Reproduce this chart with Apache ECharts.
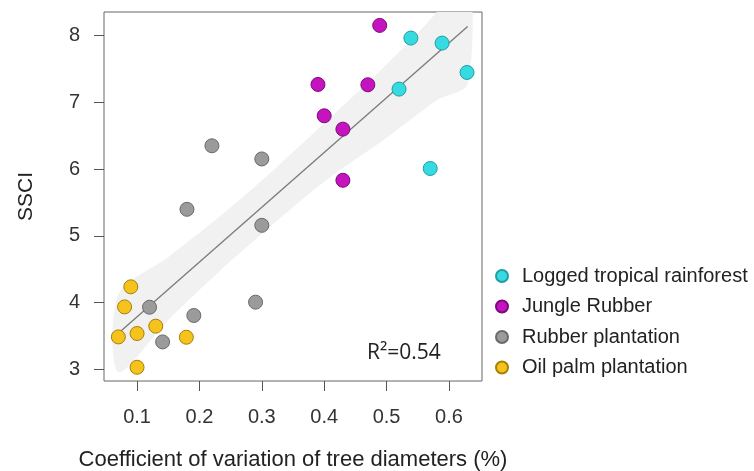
<!DOCTYPE html>
<html>
<head>
<meta charset="utf-8">
<script src="https://cdn.jsdelivr.net/npm/echarts@6/dist/echarts.min.js"></script>
<style>
  html, body { margin: 0; padding: 0; background: #fff; }
  #chart { width: 754px; height: 471px; }
</style>
</head>
<body>
<div id="chart"></div>
<script>
// Stand structural complexity index vs. coefficient of variation of tree diameters
const seriesNames = ['Logged tropical rainforest', 'Jungle Rubber', 'Rubber plantation', 'Oil palm plantation'];

const loggedForest = [[0.539, 7.965], [0.589, 7.89], [0.629, 7.45], [0.520, 7.20], [0.570, 6.01]];
const jungleRubber = [[0.489, 8.155], [0.390, 7.27], [0.470, 7.265], [0.400, 6.80], [0.430, 6.60], [0.430, 5.833]];
const rubberPlantation = [[0.220, 6.35], [0.300, 6.153], [0.180, 5.398], [0.300, 5.158], [0.120, 3.93],
                          [0.290, 4.006], [0.191, 3.806], [0.141, 3.41]];
const oilPalm = [[0.090, 4.236], [0.080, 3.935], [0.130, 3.646], [0.100, 3.536], [0.070, 3.485],
                 [0.179, 3.48], [0.100, 3.03]];

// Fitted line and its confidence band
const fitX = [0.07, 0.63];
const fitY = [3.54, 8.14];
const bandX = [0.07, 0.15, 0.23, 0.30, 0.40, 0.50, 0.58, 0.63];
const bandLower = [2.96, 3.74, 4.45, 5.03, 5.81, 6.47, 7.03, 7.28];
const bandUpper = [4.12, 4.68, 5.27, 5.83, 6.69, 7.57, 8.35, 9.00];

const xTicks = [0.1, 0.2, 0.3, 0.4, 0.5, 0.6];
const yTicks = [3, 4, 5, 6, 7, 8];
const r2Label = 'R²=0.54';

const fills = ['#35dbe0', '#c413bf', '#9b9b9b', '#f6c21c'];
const borders = ['#1f9ea3', '#7d0a7a', '#6a6a6a', '#a67f08'];
const groups = [loggedForest, jungleRubber, rubberPlantation, oilPalm];

const chart = echarts.init(document.getElementById('chart'), null, { renderer: 'canvas' });

const baseFont = 'Liberation Sans, Arial, sans-serif';

const bandPoly = {
  type: 'custom',
  name: 'band',
  silent: true,
  clip: true,
  z: 1,
  data: [0],
  renderItem: function (params, api) {
    const pts = [];
    for (let i = 0; i < bandX.length; i++) pts.push(api.coord([bandX[i], bandUpper[i]]));
    for (let i = bandX.length - 1; i >= 0; i--) pts.push(api.coord([bandX[i], bandLower[i]]));
    return {
      type: 'polygon',
      shape: { points: pts, smooth: 0.3 },
      style: { fill: '#f1f1f1', stroke: null }
    };
  }
};

const fitLine = {
  type: 'line',
  name: 'fit',
  silent: true,
  z: 2,
  symbol: 'none',
  data: fitX.map((x, i) => [x, fitY[i]]),
  lineStyle: { color: '#7a7a7a', width: 1.3 }
};

const scatterSeries = groups.map((g, i) => ({
  type: 'scatter',
  name: seriesNames[i],
  data: g,
  z: 3,
  symbol: 'circle',
  symbolSize: 14,
  itemStyle: { color: fills[i], borderColor: borders[i], borderWidth: 1, opacity: 1 }
}));

chart.setOption({
  animation: false,
  backgroundColor: '#fff',
  grid: {
    left: 104, right: 272, top: 12, bottom: 90,
    outerBoundsMode: 'none',
    containLabel: false,
    show: true, borderColor: '#666', borderWidth: 1, backgroundColor: 'transparent'
  },
  xAxis: {
    type: 'value',
    min: 0.047, max: 0.653,
    name: 'Coefficient of variation of tree diameters (%)',
    nameLocation: 'middle',
    nameGap: 68,
    nameTextStyle: { fontFamily: baseFont, fontSize: 22, color: '#222' },
    axisLine: { show: false },
    splitLine: { show: false },
    axisTick: { show: true, length: 10, lineStyle: { color: '#555' }, customValues: xTicks },
    axisLabel: {
      customValues: xTicks, margin: 26, fontFamily: baseFont, fontSize: 20, color: '#333',
      formatter: v => v.toFixed(1)
    }
  },
  yAxis: {
    type: 'value',
    min: 2.824, max: 8.356,
    name: 'SSCI',
    nameLocation: 'middle',
    nameGap: 67,
    nameRotate: 90,
    nameTextStyle: { fontFamily: baseFont, fontSize: 21, color: '#222' },
    axisLine: { show: false },
    splitLine: { show: false },
    axisTick: { show: true, length: 10, lineStyle: { color: '#555' }, customValues: yTicks },
    axisLabel: {
      customValues: yTicks, margin: 24, fontFamily: baseFont, fontSize: 20, color: '#333',
      formatter: v => String(v)
    }
  },
  legend: {
    data: seriesNames,
    orient: 'vertical',
    left: 490, top: 261,
    itemWidth: 12, itemHeight: 12,
    itemGap: 10.5,
    icon: 'circle',
    textStyle: { fontFamily: baseFont, fontSize: 20, color: '#222', padding: [0, 0, 0, 9], lineHeight: 19 },
    selectedMode: false
  },
  graphic: [{
    type: 'text',
    left: 367, top: 343,
    style: { text: r2Label, font: '21px "Open Sans", sans-serif', fill: '#222' }
  }],
  series: [bandPoly, fitLine].concat(scatterSeries)
});
</script>
</body>
</html>
